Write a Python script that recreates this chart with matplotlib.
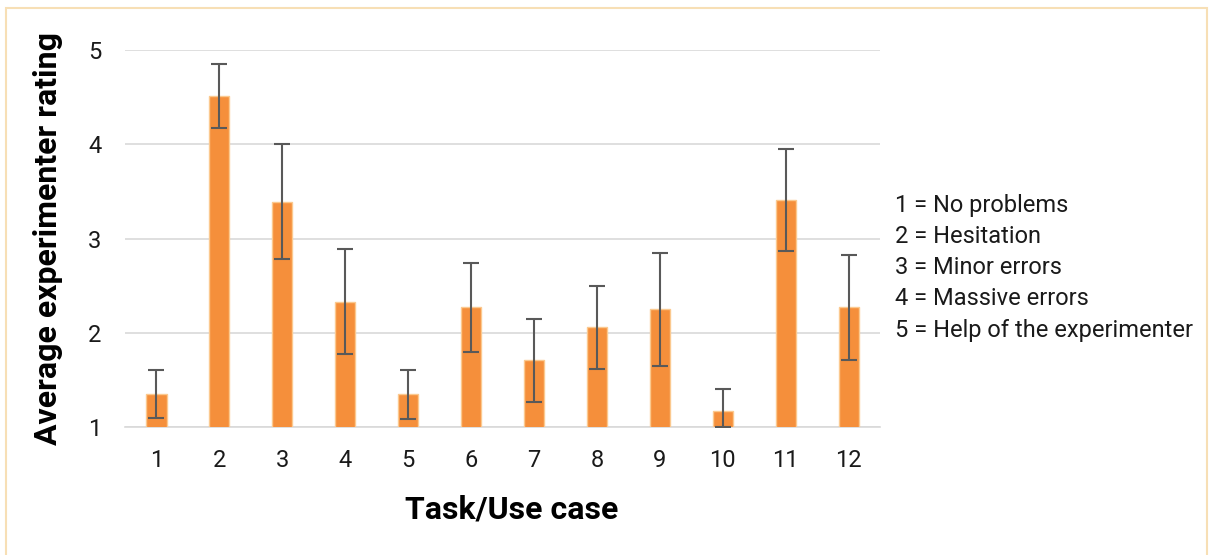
import numpy as np
import matplotlib.pyplot as plt
from matplotlib.patches import Rectangle

plt.rcParams['font.family'] = ['Roboto', 'DejaVu Sans']

tasks = ['1', '2', '3', '4', '5', '6', '7', '8', '9', '10', '11', '12']
ratings = [1.35, 4.51, 3.39, 2.33, 1.35, 2.27, 1.71, 2.06, 2.25, 1.17, 3.41, 2.27]
errors = [0.25, 0.34, 0.61, 0.56, 0.26, 0.47, 0.44, 0.44, 0.60, 0.23, 0.54, 0.56]
scale_labels = ['1 = No problems', '2 = Hesitation', '3 = Minor errors',
                '4 = Massive errors', '5 = Help of the experimenter']

fig = plt.figure(figsize=(12.11, 5.55), dpi=100)
ax = fig.add_axes([0.1032, 0.2306, 0.6235, 0.6793])

x = np.arange(len(tasks))
ax.bar(x, ratings, width=0.32, bottom=0, color='#f58f3b', edgecolor='#fbc98f',
       linewidth=1, zorder=2)
lower = [min(e, r - 1) for r, e in zip(ratings, errors)]
ax.errorbar(x, ratings, yerr=[lower, errors], fmt='none', ecolor='#595959',
            elinewidth=1.5, capsize=6, capthick=1.5, zorder=3)

ax.set_xlim(-0.5, len(tasks) - 0.5)
ax.set_ylim(1, 5)
ax.set_yticks([1, 2, 3, 4, 5])
ax.set_xticks(x)
ax.set_xticklabels(tasks)
ax.grid(axis='y', color='#d9d9d9', linewidth=1.2, zorder=0)
for s in ['top', 'right', 'left']:
    ax.spines[s].set_visible(False)
ax.spines['bottom'].set_color('#d9d9d9')
ax.spines['bottom'].set_linewidth(1.2)
ax.spines['bottom'].set_zorder(1)
ax.tick_params(length=0, labelsize=17, colors='#1a1a1a')
ax.tick_params(axis='x', pad=16)
ax.tick_params(axis='y', pad=17)

ax.set_xlabel('Task/Use case', fontsize=23, fontweight='bold', va='center')
ax.xaxis.set_label_coords(0.512, -0.22)
ax.set_ylabel('Average experimenter rating', fontsize=23, fontweight='bold', labelpad=18)

for i, t in enumerate(scale_labels):
    fig.text(0.739, 0.629 - i * 0.0559, t, fontsize=17, va='center', ha='left', color='#1a1a1a')

fig.patches.append(Rectangle((0.005, -0.05), 0.992, 1.035, transform=fig.transFigure,
                             fill=False, edgecolor='#f7dfb5', linewidth=1.5))

fig.savefig('out.png', dpi=100)
